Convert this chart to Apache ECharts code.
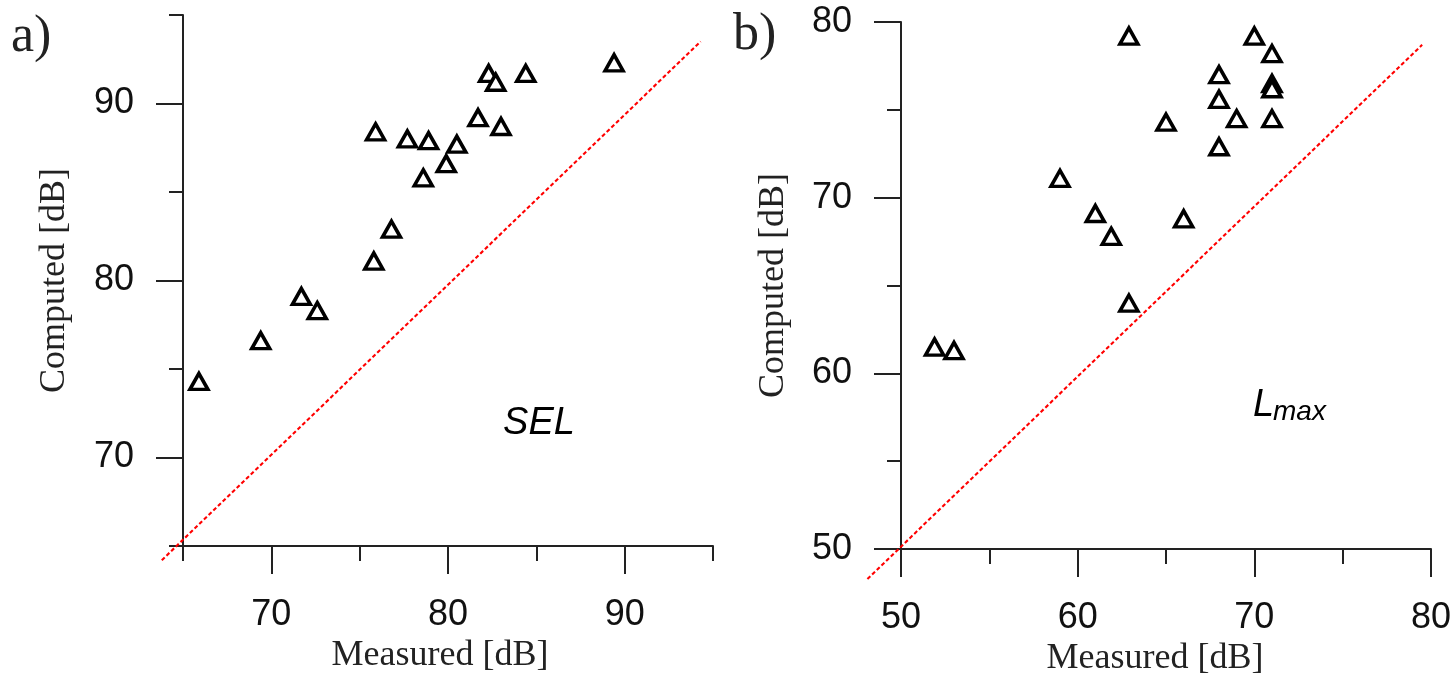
<!DOCTYPE html>
<html><head><meta charset="utf-8">
<script src="https://cdn.jsdelivr.net/npm/echarts@6/dist/echarts.min.js"></script>
<style>html,body{margin:0;padding:0;background:#fff}#c{width:1454px;height:682px}</style>
</head><body><div id="c"></div>
<script>
// ---- Panel a) SEL ----
const selMeasured = [65.9, 69.4, 71.7, 72.6, 75.8, 76.8, 75.9, 77.7, 78.9, 78.6, 79.9, 80.5, 81.7, 83.0, 82.3, 82.7, 84.4, 89.4];
const selComputed = [74.3, 76.6, 79.1, 78.3, 81.1, 82.9, 88.4, 88.0, 87.9, 85.8, 86.6, 87.7, 89.2, 88.7, 91.7, 91.2, 91.7, 92.3];
const selLineX = [63.8, 94.3];
const selLineY = [64.2, 93.5];
const selMajorTicks = [70, 80, 90];
const selMinorTicks = [65, 75, 85, 95];

// ---- Panel b) Lmax ----
const lmaxMeasured = [51.9, 53.0, 62.9, 59.0, 61.0, 61.9, 66.0, 62.9, 65.0, 68.0, 68.0, 68.0, 69.0, 70.0, 71.0, 71.0, 71.0, 71.0];
const lmaxComputed = [61.5, 61.3, 64.0, 71.1, 69.1, 67.8, 68.8, 79.2, 74.3, 77.0, 75.6, 72.9, 74.5, 79.2, 78.2, 76.5, 76.2, 74.5];
const lmaxLineX = [48.1, 79.5];
const lmaxLineY = [48.3, 78.7];
const lmaxMajorTicks = [50, 60, 70, 80];
const lmaxMinorTicks = [55, 65, 75];

const ink = '#222';
const TICKFONT = 'Liberation Sans';
const SERIF = 'Liberation Serif';

function zip(a, b) { return a.map((v, i) => [v, b[i]]); }

function xAxes(grid, min, max, major, minor, name, shift, gap) {
  return [
    { type: 'value', gridIndex: grid, min: min, max: max, position: 'bottom',
      axisLine: { show: true, onZero: false, lineStyle: { color: ink, width: 2 } },
      axisTick: { show: true, customValues: major, length: 28, lineStyle: { color: ink, width: 2 } },
      axisLabel: { show: true, customValues: major, margin: 51, fontFamily: TICKFONT, fontSize: 36, color: '#111' },
      splitLine: { show: false },
      name: name, nameLocation: 'middle', nameGap: gap,
      nameTextStyle: { fontFamily: SERIF, fontSize: 36, color: '#222', padding: [0, shift, 0, 0] } },
    { type: 'value', gridIndex: grid, min: min, max: max, position: 'bottom',
      axisLine: { show: false, onZero: false },
      axisTick: { show: true, customValues: minor, length: 15, lineStyle: { color: ink, width: 2 } },
      axisLabel: { show: false }, splitLine: { show: false } }
  ];
}
function yAxes(grid, min, max, major, minor, name, gap) {
  return [
    { type: 'value', gridIndex: grid, min: min, max: max, position: 'left',
      axisLine: { show: true, onZero: false, lineStyle: { color: ink, width: 2 } },
      axisTick: { show: true, customValues: major, length: 27, lineStyle: { color: ink, width: 2 } },
      axisLabel: { show: true, customValues: major, margin: 49, fontFamily: TICKFONT, fontSize: 36, color: '#111' },
      splitLine: { show: false },
      name: name, nameLocation: 'middle', nameGap: gap,
      nameTextStyle: { fontFamily: SERIF, fontSize: 36, color: '#222' } },
    { type: 'value', gridIndex: grid, min: min, max: max, position: 'left',
      axisLine: { show: false, onZero: false },
      axisTick: { show: true, customValues: minor, length: 14, lineStyle: { color: ink, width: 2 } },
      axisLabel: { show: false }, splitLine: { show: false } }
  ];
}

function refLine(xIdx, yIdx, xs, ys) {
  return {
    type: 'custom', xAxisIndex: xIdx, yAxisIndex: yIdx, clip: false, z: 1,
    data: [[xs[0], ys[0], xs[1], ys[1]]],
    encode: { x: [0, 2], y: [1, 3] },
    renderItem: function (params, api) {
      const p1 = api.coord([api.value(0), api.value(1)]);
      const p2 = api.coord([api.value(2), api.value(3)]);
      return { type: 'line', shape: { x1: p1[0], y1: p1[1], x2: p2[0], y2: p2[1] },
        style: { stroke: '#ff0000', lineWidth: 2.1, lineDash: [4, 2.5], fill: null } };
    }
  };
}

const chart = echarts.init(document.getElementById('c'), null, { renderer: 'canvas' });
const tri = { symbol: 'triangle', symbolSize: [18, 16],
  itemStyle: { color: '#fff', borderColor: '#000', borderWidth: 3.5, opacity: 1 } };

chart.setOption({
  animation: false,
  backgroundColor: '#fff',
  grid: [
    { left: 183, top: 15, width: 530, height: 531 },
    { left: 901, top: 22, width: 530, height: 533 }
  ],
  xAxis: [].concat(
    xAxes(0, 65, 95, selMajorTicks, selMinorTicks, 'Measured [dB]', 16, 92),
    xAxes(1, 50, 80, lmaxMajorTicks, lmaxMinorTicks, 'Measured [dB]', 22, 89)
  ),
  yAxis: [].concat(
    yAxes(0, 65, 95, selMajorTicks, selMinorTicks, 'Computed [dB]', 110),
    yAxes(1, 50, 80, lmaxMajorTicks, lmaxMinorTicks, 'Computed [dB]', 109)
  ),
  series: [
    refLine(0, 0, selLineX, selLineY),
    Object.assign({ type: 'scatter', xAxisIndex: 0, yAxisIndex: 0, data: zip(selMeasured, selComputed), z: 3 }, tri),
    refLine(2, 2, lmaxLineX, lmaxLineY),
    Object.assign({ type: 'scatter', xAxisIndex: 2, yAxisIndex: 2, data: zip(lmaxMeasured, lmaxComputed), z: 3 }, tri)
  ],
  graphic: [
    { type: 'text', left: 11, top: 11, style: { text: 'a)', font: '52px "Liberation Serif"', fill: '#222' } },
    { type: 'text', left: 733, top: 9, style: { text: 'b)', font: '52px "Liberation Serif"', fill: '#222' } },
    { type: 'text', x: 539, y: 423, style: { text: 'SEL', font: 'italic 38px "Liberation Sans"', fill: '#000', align: 'center', verticalAlign: 'middle' } },
    { type: 'text', x: 1253, y: 424, style: { text: 'L', font: 'italic 38px "Liberation Sans"', fill: '#000', align: 'left', verticalAlign: 'bottom' } },
    { type: 'text', x: 1273, y: 426, style: { text: 'max', font: 'italic 28px "Liberation Sans"', fill: '#000', align: 'left', verticalAlign: 'bottom' } }
  ]
});
</script></body></html>
